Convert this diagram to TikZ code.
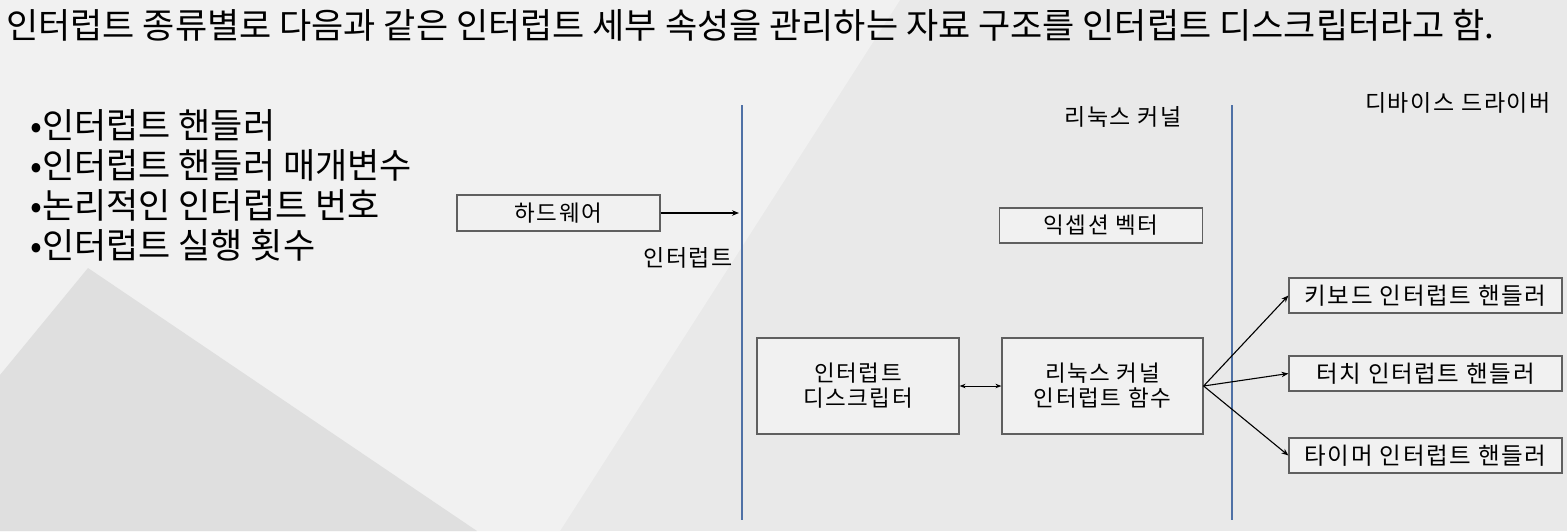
\documentclass[tikz,border=0pt]{standalone}
\usepackage{fontspec}
\setmainfont{Noto Sans CJK KR}
\newfontfamily\boxfont[LetterSpace=7]{Noto Sans CJK KR}
\usetikzlibrary{arrows.meta}
\definecolor{slidebg}{RGB}{233,233,233}
\definecolor{slidelight}{RGB}{241,241,241}
\definecolor{slidedark}{RGB}{223,223,223}
\definecolor{ruleblue}{RGB}{79,113,166}
\definecolor{boxline}{RGB}{95,95,95}

\begin{document}
\begin{tikzpicture}[x=1pt, y=-1pt,
        box/.style={draw=boxline, line width=1.2pt, fill=slidelight, inner sep=0pt, align=center,
                    font=\boxfont\fontsize{22.5}{25}\selectfont},
        handler/.style={box, minimum width=273pt, minimum height=35pt,
                    font=\boxfont\fontsize{23.5}{28}\selectfont},
        divider/.style={draw=ruleblue, line width=2.8pt},
        lbl/.style={inner sep=0pt, font=\boxfont\fontsize{23}{28}\selectfont},
        arr/.style={line width=1.1pt, -{Stealth[length=7pt, width=5.5pt]}},
        darr/.style={line width=0.9pt, {Stealth[length=6pt, width=4.5pt]}-{Stealth[length=6pt, width=4.5pt]}}
    ]
        \useasboundingbox (0,0) rectangle (1567,531);
        % -- slide background --
        \fill[slidebg] (0,0) rectangle (1567,531);
        \fill[slidelight] (0,0) -- (900,0) -- (560,531) -- (0,531) -- cycle;
        \fill[slidedark] (0,375) -- (88,268) -- (477,531) -- (0,531) -- cycle;

        % -- heading and bullet list --
        \node[anchor=west, inner sep=0pt, font=\fontsize{35}{40}\selectfont] (title) at (6,25)
            {인터럽트 종류별로 다음과 같은 인터럽트 세부 속성을 관리하는 자료 구조를 인터럽트 디스크립터라고 함.};
        \node[anchor=west, align=left, inner sep=0pt, font=\fontsize{35}{40}\selectfont] (props) at (30,185)
            {•인터럽트 핸들러\\ •인터럽트 핸들러 매개변수\\ •논리적인 인터럽트 번호\\ •인터럽트 실행 횟수};

        % -- layer dividers --
        \coordinate (d1top) at (742,105);
        \coordinate (d1bot) at (742,520);
        \coordinate (d2top) at (1232,105);
        \coordinate (d2bot) at (1232,520);
        \draw[divider] (d1top) -- (d1bot);
        \draw[divider] (d2top) -- (d2bot);

        % -- layer labels --
        \node[lbl, anchor=east] (irq) at (733,258) {인터럽트};
        \node[lbl] (kernel) at (1123,117) {리눅스 커널};
        \node[lbl] (driver) at (1458,103) {디바이스 드라이버};

        % -- boxes --
        \node[box, minimum width=203pt, minimum height=36pt] (hw)   at (558.5,213)  {하드웨어};
        \node[box, minimum width=203pt, minimum height=35pt] (exc)  at (1101,225.5) {익셉션 벡터};
        \node[box, minimum width=202pt, minimum height=96pt] (desc) at (858,386)    {인터럽트\\디스크립터};
        \node[box, minimum width=201pt, minimum height=96pt] (kfn)  at (1102.5,386) {리눅스 커널\\인터럽트 함수};
        \node[handler] (kbd) at (1425.5,295.5) {키보드 인터럽트 핸들러};
        \node[handler] (tch) at (1425.5,373.5) {터치 인터럽트 핸들러};
        \node[handler] (tmr) at (1425.5,455.5) {타이머 인터럽트 핸들러};

        % -- connectors --
        \coordinate (hwin) at (739,213);
        \draw[arr] (hw.east) -- (hwin);
        \draw[darr] (desc.east) -- (kfn.west);
        \draw[arr] (kfn.east) -- (kbd.west);
        \draw[arr] (kfn.east) -- (tch.west);
        \draw[arr] (kfn.east) -- (tmr.west);
    \end{tikzpicture}
\end{document}
